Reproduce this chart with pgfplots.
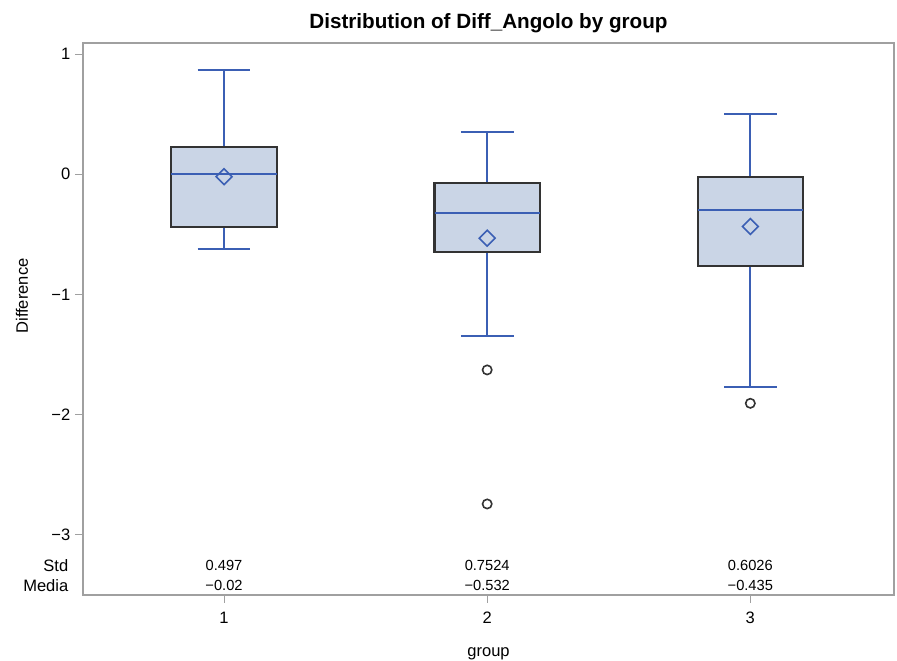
\documentclass[border=0pt]{standalone}
\usepackage{fontspec}
\setmainfont{Liberation Sans}
\usepackage{pgfplots}
\pgfplotsset{compat=1.18}
\usepgfplotslibrary{statistics}
\definecolor{boxfill}{HTML}{CAD5E6}
\definecolor{boxblue}{HTML}{3B5FB4}
\definecolor{axgray}{HTML}{A0A0A0}
\definecolor{boxedge}{HTML}{333333}
\begin{document}
\begin{tikzpicture}
\begin{axis}[
  scale only axis, width=608.25pt, height=414pt,
  xmin=0.464, xmax=3.546, ymin=-3.503, ymax=1.093,
  clip=false,
  axis line style={axgray, line width=1pt},
  xtick={1,2,3}, xticklabels={1,2,3},
  ytick={-3,-2,-1,0,1}, yticklabels={−3,−2,−1,0,1},
  xtick pos=left, ytick pos=left,
  tick align=outside, major tick length=6pt,
  tick style={axgray, line width=0.8pt},
  tick label style={font=\fontsize{12.4}{14}\selectfont},
  xticklabel style={yshift=-3pt},
  title={Distribution of Diff\_Angolo by group},
  title style={font=\bfseries\fontsize{15.5}{18}\selectfont, at={(axis description cs:0.5,1)}, anchor=base, yshift=4.5pt},
  xlabel={group}, ylabel={Difference},
  xlabel style={font=\fontsize{12.4}{14}\selectfont, at={(axis description cs:0.5,0)}, anchor=center, yshift=-44pt},
  ylabel style={font=\fontsize{12.4}{14}\selectfont, at={(axis description cs:-0.0752,0.5417)}, anchor=center},
  boxplot/draw direction=y,
  boxplot/every box/.style={draw=boxedge, fill=boxfill, line width=1.6pt},
  boxplot/every whisker/.style={draw=boxblue, line width=1.4pt},
  boxplot/every median/.style={draw=boxblue, line width=1.4pt},
]
\addplot+[solid, draw=boxblue, mark=none, boxplot prepared={median=0, upper quartile=0.225, lower quartile=-0.436, upper whisker=0.866, lower whisker=-0.622, draw position=1, box extend=0.4, whisker extend=0.2}] coordinates {};
\addplot+[solid, draw=boxblue, mark=none, boxplot prepared={median=-0.322, upper quartile=-0.072, lower quartile=-0.644, upper whisker=0.352, lower whisker=-1.344, draw position=2, box extend=0.4, whisker extend=0.2}] coordinates {};
\addplot+[solid, draw=boxblue, mark=none, boxplot prepared={median=-0.295, upper quartile=-0.025, lower quartile=-0.761, upper whisker=0.50, lower whisker=-1.774, draw position=3, box extend=0.4, whisker extend=0.2}] coordinates {};
% means
\addplot[only marks, mark=square, mark size=4.2pt, mark options={rotate=45, draw=boxblue, fill=boxfill, line width=1.2pt}] coordinates {(1,-0.02) (2,-0.532) (3,-0.435)};
% outliers
\addplot[only marks, mark=o, mark size=3.5pt, mark options={draw=boxedge, line width=1.2pt}] coordinates {(2,-1.629) (2,-2.745) (3,-1.907)};
% statistics table
\node[font=\fontsize{11}{13}\selectfont] at (axis cs:1,-3.259) {0.497};
\node[font=\fontsize{11}{13}\selectfont] at (axis cs:2,-3.259) {0.7524};
\node[font=\fontsize{11}{13}\selectfont] at (axis cs:3,-3.259) {0.6026};
\node[font=\fontsize{11}{13}\selectfont] at (axis cs:1,-3.425) {−0.02};
\node[font=\fontsize{11}{13}\selectfont] at (axis cs:2,-3.425) {−0.532};
\node[font=\fontsize{11}{13}\selectfont] at (axis cs:3,-3.425) {−0.435};
\node[font=\fontsize{12.4}{14}\selectfont, anchor=east] at ([xshift=-7.5pt]axis cs:0.464,-3.259) {Std};
\node[font=\fontsize{12.4}{14}\selectfont, anchor=east] at ([xshift=-7.5pt]axis cs:0.464,-3.425) {Media};
\end{axis}
\pgfresetboundingbox
\path (-62.25pt,-49.5pt) rectangle (610.5pt,446.25pt);
\end{tikzpicture}
\end{document}
